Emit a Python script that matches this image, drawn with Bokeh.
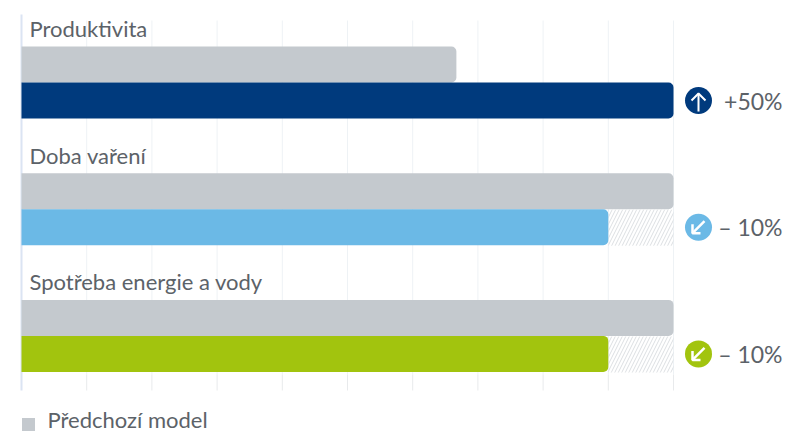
from bokeh.plotting import figure
from bokeh.embed import file_html
from bokeh.resources import INLINE
from bokeh.core.properties import value

categories = ["Produktivita", "Doba vaření", "Spotřeba energie a vody"]
previous = [66.7, 100, 100]
current = [100, 90, 90]
colors = ["#003a7d", "#6bb9e6", "#a2c40e"]
changes = ["+50%", "– 10%", "– 10%"]
ticks = [0, 10, 20, 30, 40, 50, 60, 70, 80, 90, 100]
legend_label = "Předchozí model"

W, H = 785, 432
PX_X = 6.52      # px per value unit
PX_Y = 126.7     # px per row
X0 = 21          # px of value 0 in the frame
Y0 = 82          # px of row 0 in the frame
FONT = value("Lato")
TXT = "#5c6268"

p = figure(width=W, height=H, output_backend="svg", toolbar_location=None,
           x_range=(-X0 / PX_X, (W - X0) / PX_X),
           y_range=((H - Y0) / PX_Y, -Y0 / PX_Y),
           min_border=0, outline_line_color=None, background_fill_color="white")
p.axis.visible = False
p.grid.visible = False

def px(dx):
    return dx / PX_X
def py(dy):
    return dy / PX_Y

rows = list(range(len(categories)))
bar_h = py(36)

# grid and axis
top, bottom, tick_top = py(-62), py(308), py(292)
p.segment(ticks, [top] * len(ticks), ticks, [tick_top] * len(ticks), line_color="#eef2f5", line_width=1)
p.segment(ticks[1:], [tick_top] * 10, ticks[1:], [bottom] * 10, line_color="#e8eaec", line_width=1)
p.segment([0], [py(-68)], [0], [py(308)], line_color="#dbe4f3", line_width=2)

# hatched remainder
p.hbar(y=[r + py(18.5) for r in rows[1:]], left=current[1:], right=previous[1:], height=bar_h,
       fill_color=None, line_color=None, hatch_pattern="right_diagonal_line",
       hatch_color="#dcdfe2", hatch_scale=7, hatch_weight=1)

# bars
radius = (0, 5, 5, 0)
p.hbar(y=[r - py(18) for r in rows], left=0, right=previous, height=bar_h,
       fill_color="#c4c9ce", line_color=None, border_radius=radius)
p.hbar(y=[r + py(18) for r in rows], left=0, right=current, height=bar_h,
       fill_color=colors, line_color=None, border_radius=radius)

# category labels
p.text(x=[0] * 3, y=[r - py(54) for r in rows], text=categories, x_offset=8,
       text_font=FONT, text_font_size="22px", text_color=TXT,
       text_align="left", text_baseline="middle")

# change icons
icon_x = px(698 - 21)
icon_y = [r + py(18) for r in rows]
p.scatter(x=[icon_x] * 3, y=icon_y, size=27, fill_color=colors, line_color=None)
# up arrow in the first, down-left arrows in the others
y = icon_y[0]
p.multi_line(xs=[[icon_x, icon_x], [icon_x - px(7), icon_x, icon_x + px(7)]],
             ys=[[y + py(11), y - py(7)], [y, y - py(7), y]],
             line_color="white", line_width=2)
for y in icon_y[1:]:
    p.multi_line(xs=[[icon_x + px(6), icon_x - px(6)], [icon_x - px(6), icon_x - px(6), icon_x + px(2)]],
                 ys=[[y - py(6), y + py(6)], [y - py(3), y + py(6), y + py(6)]],
                 line_color="white", line_width=2.5)

# change values
p.text(x=[px(782 - 21)] * 3, y=icon_y, text=changes,
       text_font=FONT, text_font_size="23px", text_color=TXT,
       text_align="right", text_baseline="middle")

# legend
p.scatter(x=[px(7)], y=[py(342)], marker="square", size=13, fill_color="#c4c9ce", line_color=None)
p.text(x=[px(26)], y=[py(337)], text=[legend_label],
       text_font=FONT, text_font_size="22px", text_color=TXT,
       text_align="left", text_baseline="middle")

open("out.html", "w").write(file_html(p, INLINE))
